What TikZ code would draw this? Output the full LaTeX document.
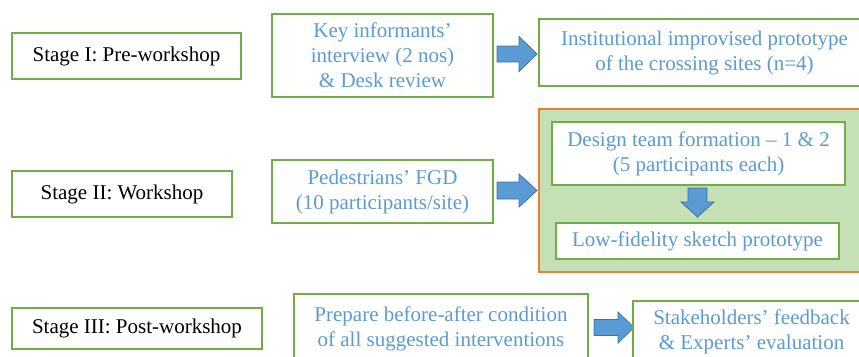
\documentclass[tikz,border=0pt]{standalone}
\usepackage{fontspec}
\setmainfont{Liberation Serif}
\definecolor{framegreen}{HTML}{70AD47}
\definecolor{labelblue}{HTML}{5B9BD5}
\definecolor{panelfill}{HTML}{C5E0B4}
\definecolor{panelframe}{HTML}{ED7D31}
\definecolor{arrowfill}{HTML}{5B9BD5}
\definecolor{arrowedge}{HTML}{41719C}
% block arrow pointing right: #1 tail x, #2 head-base x, #3 tip x, #4 centre y, #5 half shaft, #6 half head
\newcommand{\rightblock}[6]{%
  \draw[blockarrow] (#1,#4-#5) -- (#2,#4-#5) -- (#2,#4-#6) -- (#3,#4)
    -- (#2,#4+#6) -- (#2,#4+#5) -- (#1,#4+#5) -- cycle;}
% block arrow pointing down: #1 tail y, #2 head-base y, #3 tip y, #4 centre x, #5 half shaft, #6 half head
\newcommand{\downblock}[6]{%
  \draw[blockarrow] (#4-#5,#1) -- (#4-#5,#2) -- (#4-#6,#2) -- (#4,#3)
    -- (#4+#6,#2) -- (#4+#5,#2) -- (#4+#5,#1) -- cycle;}
\begin{document}
\begin{tikzpicture}[x=1pt,y=-1pt,
  box/.style={draw=framegreen, line width=1.5pt, fill=white, inner sep=0pt,
    align=center, text=labelblue, font=\fontsize{21}{25}\selectfont},
  stagebox/.style={box, text=black},
  panel/.style={draw=panelframe, line width=1.5pt, fill=panelfill, inner sep=0pt},
  blockarrow/.style={draw=arrowedge, fill=arrowfill, line width=0.8pt, line join=miter}]
\useasboundingbox (0,0) rectangle (859,356);
\clip (0,0) rectangle (859,356);

% Stage I
\node[stagebox, minimum width=229pt, minimum height=46pt] (s1) at (126.5,56) {Stage I: Pre-workshop};
\node[box, minimum width=221pt, minimum height=83pt] (k1) at (382.5,55.5) {Key informants’\\interview (2 nos)\\\& Desk review};
\node[box, minimum width=331pt, minimum height=67pt] (i1) at (704.5,52.5) {Institutional improvised prototype\\of the crossing sites (n=4)};
\rightblock{497}{519}{537}{54}{8}{17.5}

% Stage II
\node[stagebox, minimum width=220pt, minimum height=46pt] (s2) at (122,194) {Stage II: Workshop};
\node[box, minimum width=221pt, minimum height=63pt] (p2) at (382.5,191.5) {Pedestrians’ FGD\\(10 participants/site)};
\rightblock{497}{519}{537}{190.5}{8.5}{16.5}
\node[panel, minimum width=336pt, minimum height=163pt] (pan) at (707,190.5) {};
\node[box, minimum width=293pt, minimum height=63pt] (d2) at (698.5,153.5) {Design team formation – 1 \& 2\\(5 participants each)};
\node[box, minimum width=283pt, minimum height=36pt] (l2) at (697.5,241) {Low-fidelity sketch prototype};
\downblock{188}{202}{217}{697.5}{9.5}{16.5}

% Stage III
\node[stagebox, minimum width=250pt, minimum height=41pt] (s3) at (137,328.5) {Stage III: Post-workshop};
\node[box, minimum width=294pt, minimum height=70pt] (r3) at (441,329) {Prepare before-after condition\\of all suggested interventions};
\rightblock{594}{618}{634}{327.5}{8}{15.5}
\node[box, minimum width=237pt, minimum height=62pt] (f3) at (751.5,332) {Stakeholders’ feedback\\\& Experts’ evaluation};
\end{tikzpicture}
\end{document}
